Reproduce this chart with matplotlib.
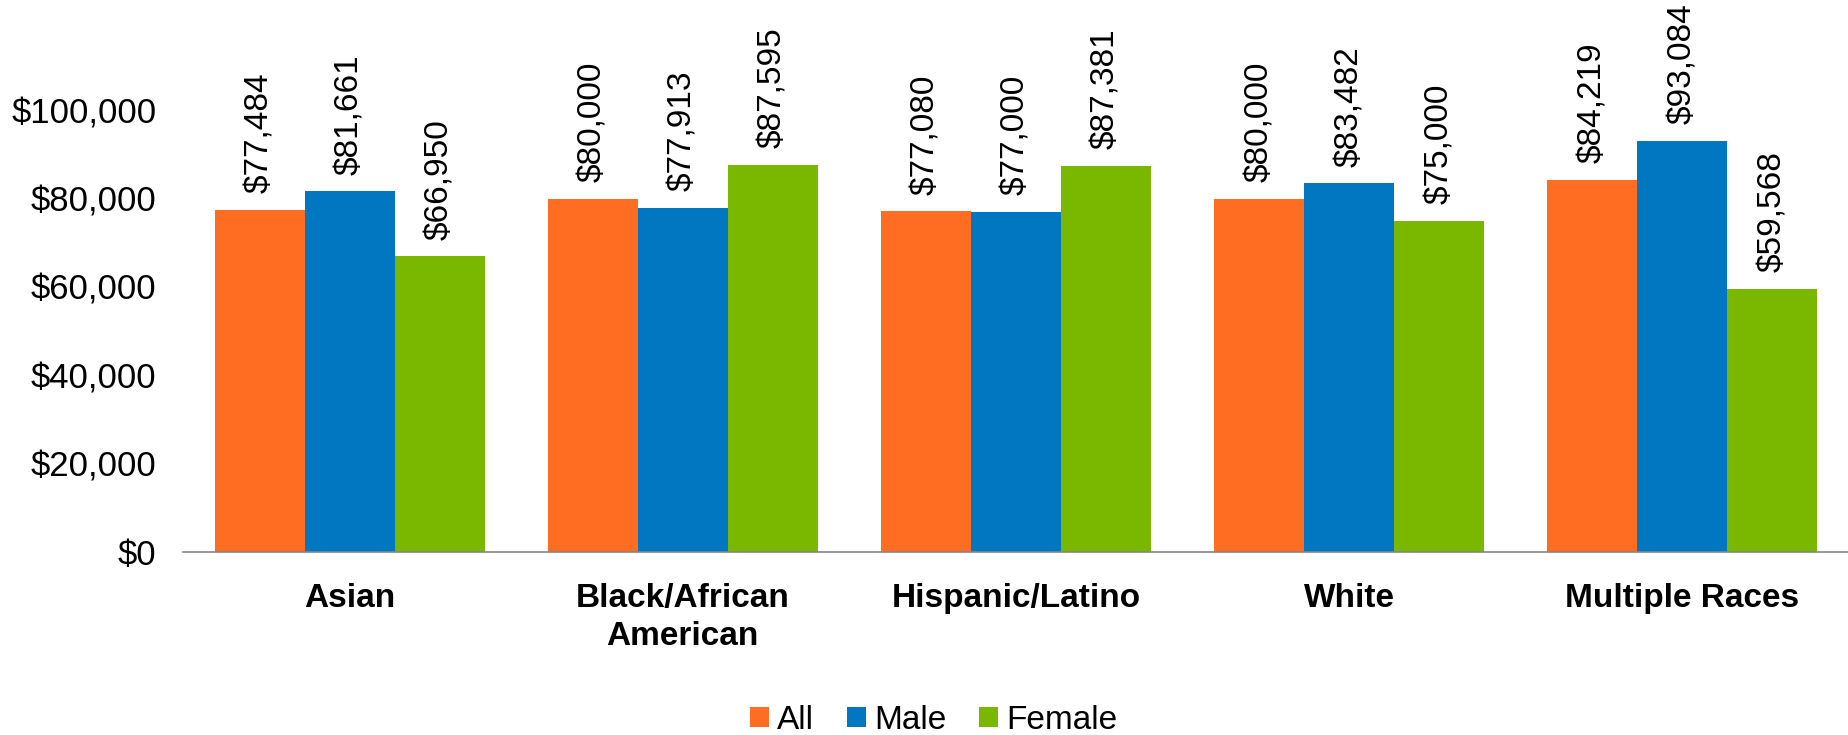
import matplotlib
matplotlib.use("Agg")
import matplotlib.pyplot as plt
import numpy as np
from matplotlib.ticker import FuncFormatter

plt.rcParams['font.family'] = ['Liberation Sans', 'DejaVu Sans']

categories = ["Asian", "Black/African\nAmerican", "Hispanic/Latino", "White", "Multiple Races"]
series_names = ["All", "Male", "Female"]
all_values = [77484, 80000, 77080, 80000, 84219]
male_values = [81661, 77913, 77000, 83482, 93084]
female_values = [66950, 87595, 87381, 75000, 59568]
y_ticks = [0, 20000, 40000, 60000, 80000, 100000]

colors = ["#FF6D23", "#0077C0", "#7AB800"]

fig = plt.figure(figsize=(18.49, 7.35), dpi=100)
ax = fig.add_axes([0.099, 0.249, 0.901, 0.601])

x = np.arange(len(categories))
width = 0.27
offsets = [-width, 0, width]
for vals, name, col, off in zip([all_values, male_values, female_values], series_names, colors, offsets):
    bars = ax.bar(x + off, vals, width, color=col, label=name, linewidth=0)
    for b, v in zip(bars, vals):
        ax.annotate(f"${v:,}", xy=(b.get_x() + b.get_width() / 2, v),
                    xytext=(0, 12), textcoords="offset points",
                    rotation=90, ha="center", va="bottom", fontsize=24, color="black")

ax.set_xlim(-0.5, len(categories) - 0.5)
ax.set_ylim(0, 100000)
ax.set_yticks(y_ticks)
ax.yaxis.set_major_formatter(FuncFormatter(lambda v, p: f"${int(v):,}"))
ax.set_xticks(x)
ax.set_xticklabels(categories, fontsize=24, fontweight="bold", linespacing=1.32)
ax.tick_params(axis="y", length=0, pad=19, labelsize=25)
ax.tick_params(axis="x", length=0, pad=22)

for s in ["top", "right", "left"]:
    ax.spines[s].set_visible(False)
ax.spines["bottom"].set_color("#868686")
ax.spines["bottom"].set_linewidth(1.2)

leg = fig.legend(loc="center", bbox_to_anchor=(0.505, 0.02), ncol=3, frameon=False,
                 fontsize=24, handlelength=0.55, handleheight=0.55,
                 handletextpad=0.25, columnspacing=1.0, borderaxespad=0)

fig.savefig("out.png", dpi=100)
